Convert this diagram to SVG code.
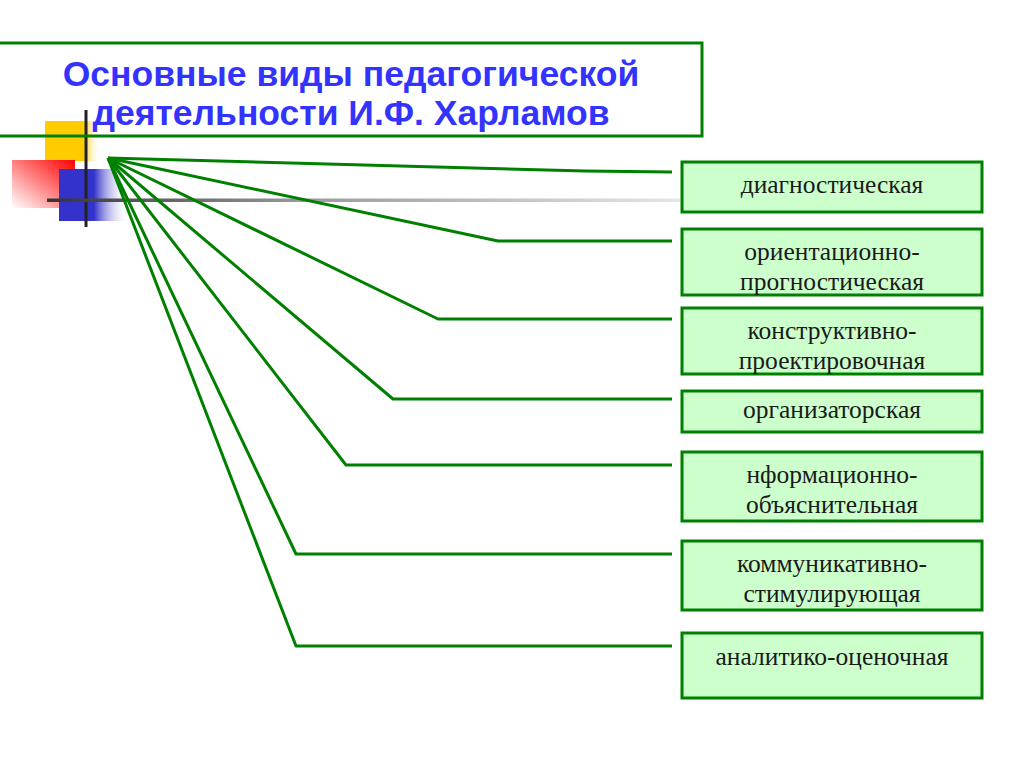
<svg xmlns="http://www.w3.org/2000/svg" width="1024" height="767" viewBox="0 0 1024 767">
<defs>
<linearGradient id="gy" x1="0" y1="0" x2="1" y2="0"><stop offset="0" stop-color="#ffcc00"/><stop offset="0.7" stop-color="#ffcc00"/><stop offset="1" stop-color="#ffffff" stop-opacity="0"/></linearGradient>
<linearGradient id="gr" x1="0" y1="1" x2="1" y2="0"><stop offset="0" stop-color="#ffffff"/><stop offset="1" stop-color="#ff0000"/></linearGradient>
<linearGradient id="gb" x1="0" y1="0" x2="1" y2="0"><stop offset="0" stop-color="#3333cc"/><stop offset="0.5" stop-color="#3333cc"/><stop offset="1" stop-color="#ffffff" stop-opacity="0"/></linearGradient>
<linearGradient id="gl" x1="0" y1="0" x2="1" y2="0"><stop offset="0" stop-color="#333333"/><stop offset="0.4" stop-color="#999999"/><stop offset="1" stop-color="#e6e6e6"/></linearGradient>
<style>
.box{fill:#ccffcc;stroke:#008000;stroke-width:3}
.lbl{font-family:"Liberation Serif","Times New Roman",serif;font-size:25.5px;fill:#1a1a1a;text-anchor:middle}
.con{fill:none;stroke:#008000;stroke-width:3;stroke-linejoin:round}
.ttl{font-family:"Liberation Sans",Arial,sans-serif;font-weight:bold;font-size:35.5px;fill:#3333ff;text-anchor:middle}
</style>
</defs>
<rect width="1024" height="767" fill="#ffffff"/>
<g id="decor">
<rect x="45" y="121" width="55" height="40" fill="url(#gy)"/>
<rect x="12" y="160" width="63" height="48" fill="url(#gr)"/>
<rect x="59" y="169" width="70" height="52" fill="url(#gb)"/>
<line x1="86" y1="110" x2="86" y2="227" stroke="#222" stroke-width="3"/>
<rect x="47" y="198.5" width="633" height="3.5" fill="url(#gl)"/>
</g>
<g id="title">
<rect x="-2" y="43" width="704" height="93" fill="none" stroke="#008000" stroke-width="3"/>
<text class="ttl" x="351" y="86">Основные виды педагогической</text>
<text class="ttl" x="351" y="125">деятельности И.Ф. Харламов</text>
</g>
<g id="connectors">
<polyline class="con" points="108,158 585,171 672,172"/>
<polyline class="con" points="108,158 498,241 672,241"/>
<polyline class="con" points="108,158 438,319 672,319"/>
<polyline class="con" points="108,158 393,399 672,399"/>
<polyline class="con" points="108,158 346,465 672,465"/>
<polyline class="con" points="108,158 296,554 672,554"/>
<polyline class="con" points="108,158 296,646 672,646"/>
</g>
<g id="n1"><rect class="box" x="682" y="162" width="300" height="50"/><text class="lbl" x="832" y="193">диагностическая</text></g>
<g id="n2"><rect class="box" x="682" y="229" width="300" height="66"/><text class="lbl" x="832" y="260">ориентационно-</text><text class="lbl" x="832" y="290">прогностическая</text></g>
<g id="n3"><rect class="box" x="682" y="308" width="300" height="66"/><text class="lbl" x="832" y="339">конструктивно-</text><text class="lbl" x="832" y="369">проектировочная</text></g>
<g id="n4"><rect class="box" x="682" y="391" width="300" height="41"/><text class="lbl" x="832" y="418">организаторская</text></g>
<g id="n5"><rect class="box" x="682" y="452" width="300" height="69"/><text class="lbl" x="832" y="483">нформационно-</text><text class="lbl" x="832" y="513">объяснительная</text></g>
<g id="n6"><rect class="box" x="682" y="541" width="300" height="69"/><text class="lbl" x="832" y="572">коммуникативно-</text><text class="lbl" x="832" y="602">стимулирующая</text></g>
<g id="n7"><rect class="box" x="682" y="633" width="300" height="65"/><text class="lbl" x="832" y="665">аналитико-оценочная</text></g>
</svg>
